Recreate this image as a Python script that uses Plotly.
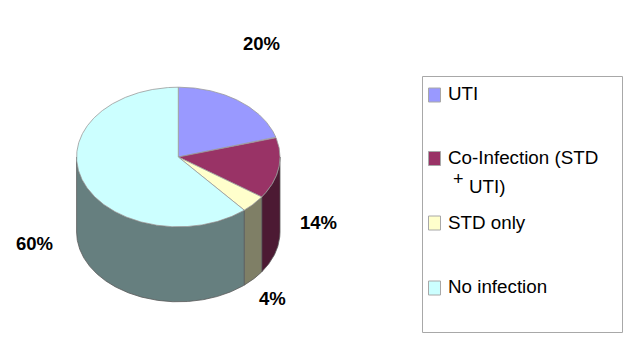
import numpy as np
import plotly.graph_objects as go

categories = ["UTI", "Co-Infection (STD + UTI)", "STD only", "No infection"]
values = [20, 14, 4, 60]
top_colors = ["#9999FF", "#993366", "#FFFFCC", "#CCFFFF"]
side_colors = ["#4D4D80", "#4C1A33", "#7F7F66", "#667F7F"]

W, H = 633, 344
CX, CY, RX, RY, DEPTH = 178.3, 157, 101.7, 69.8, 75
EDGE = "#9A9A9A"
FONT = "Liberation Sans, Arial, sans-serif"


def rim(a, b, dy=0.0):
    t = np.radians(np.linspace(a, b, max(int(abs(b - a)) * 2, 2)))
    return CX + RX * np.sin(t), CY + dy - RY * np.cos(t)


fig = go.Figure()


def poly(xs, ys, fill, line=EDGE):
    fig.add_trace(go.Scatter(
        x=xs, y=ys, mode="lines", fill="toself", fillcolor=fill,
        line=dict(color=line, width=0.8), hoverinfo="skip", showlegend=False))


# the printed percentages are rounded and add to 98, so share the full circle
edges = np.concatenate([[0], np.cumsum(values)]) / sum(values) * 360

# side walls, only the front half (90 to 270 degrees) shows
for i in range(len(values)):
    a, b = max(edges[i], 90), min(edges[i + 1], 270)
    if a >= b:
        continue
    x1, y1 = rim(a, b)
    x2, y2 = rim(b, a, DEPTH)
    poly(np.r_[x1, x2, x1[0]], np.r_[y1, y2, y1[0]], side_colors[i], "#5A5A5A")

# top face
for i in range(len(values)):
    x1, y1 = rim(edges[i], edges[i + 1])
    poly(np.r_[CX, x1, CX], np.r_[CY, y1, CY], top_colors[i])

shapes = [dict(type="rect", x0=422.5, x1=622.5, y0=76.5, y1=332.5,
               line=dict(color="#A8A8A8", width=1), fillcolor="white", layer="below")]
swatch_y = [95, 158.5, 223, 288]
legend_lines = [
    (446, 93, "UTI"),
    (446, 157, "Co-Infection (STD"),
    (467, 186, "UTI)"),
    (446, 222, "STD only"),
    (446, 286, "No infection"),
]
for y, c in zip(swatch_y, top_colors):
    shapes.append(dict(type="rect", x0=428.5, x1=440.5, y0=y - 7, y1=y + 7,
                       fillcolor=c, line=dict(color="#A8A8A8", width=1)))

annotations = []
for x, y, t in legend_lines:
    annotations.append(dict(x=x, y=y, text=t, xanchor="left", yanchor="middle", showarrow=False,
                            font=dict(family=FONT, size=18.8, color="black")))
annotations.append(dict(x=458, y=179, text="+", xanchor="center", yanchor="middle", showarrow=False,
                        font=dict(family=FONT, size=18, color="black")))

label_pos = [(261.5, 43), (318.5, 222), (272.5, 298), (34.5, 243)]
for (x, y), v in zip(label_pos, values):
    annotations.append(dict(x=x, y=y, text=f"<b>{v}%</b>", xanchor="center", yanchor="middle",
                            showarrow=False, font=dict(family=FONT, size=18.5, color="black")))

fig.update_layout(
    width=W, height=H, margin=dict(l=0, r=0, t=0, b=0),
    paper_bgcolor="white", plot_bgcolor="white", showlegend=False,
    xaxis=dict(range=[0, W], visible=False, fixedrange=True),
    yaxis=dict(range=[H, 0], visible=False, fixedrange=True),
    shapes=shapes, annotations=annotations,
)
fig.write_html("out.html", config=dict(displayModeBar=False),
               post_script="document.body.style.margin='0';document.body.style.overflow='hidden';")
